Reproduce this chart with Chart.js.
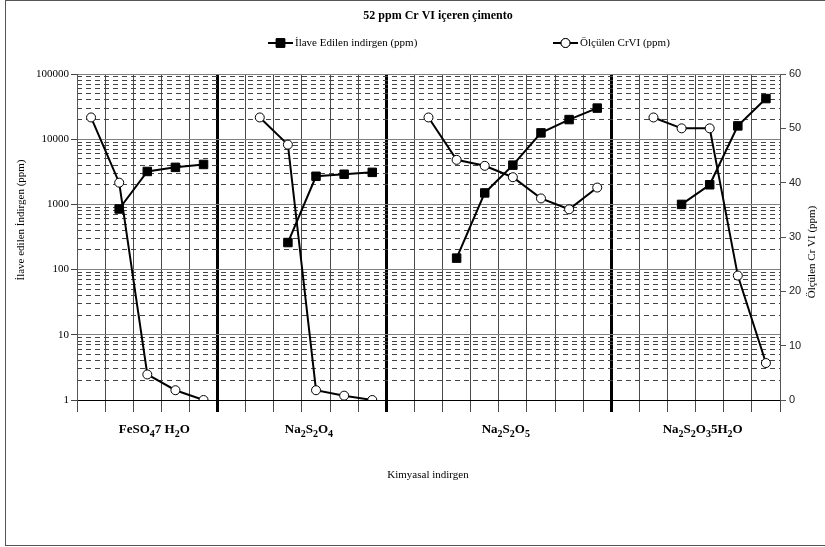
<!DOCTYPE html>
<html>
<head>
<meta charset="utf-8">
<script src="https://cdn.jsdelivr.net/npm/chart.js"></script>
<style>
  html, body { margin: 0; padding: 0; background: #fff; }
  #wrap { width: 825px; height: 547px; }
</style>
</head>
<body>
<div id="wrap"><canvas id="chart" width="825" height="547"></canvas></div>
<script>
"use strict"

const chartTitle = '52 ppm Cr VI içeren çimento';
const xTitle = 'Kimyasal indirgen';
const leftTitle = 'İlave edilen İndirgen (ppm)';
const rightTitle = 'Ölçülen Cr VI (ppm)';
const seriesNames = ['İlave Edilen indirgen (ppm)', 'Ölçülen CrVI (ppm)'];

const groupNames = ['FeSO₄7 H₂O', 'Na₂S₂O₄', 'Na₂S₂O₅', 'Na₂S₂O₃5H₂O'];
const groupSizes = [5, 6, 8, 6];

// added reducer, ppm (left, log axis)
const addedReducer = [
  null, 850, 3200, 3700, 4100,
  null, null, 260, 2700, 2900, 3100,
  null, null, 150, 1500, 4000, 12500, 20000, 30000,
  null, null, 1000, 2000, 16000, 42000
];
// measured Cr VI, ppm (right axis)
const measuredCr = [
  52, 40, 4.7, 1.8, 0,
  null, 52, 47, 1.8, 0.8, 0,
  null, 52, 44.2, 43.1, 41, 37.1, 35.1, 39.1,
  null, 52, 50, 50, 22.9, 6.8
];

const leftTicks = [1, 10, 100, 1000, 10000, 100000];
const minorSteps = [2, 3, 4, 5, 6, 7, 8, 9];
const rightTicks = [0, 10, 20, 30, 40, 50, 60];

const SERIF = "'Liberation Serif', 'Times New Roman', serif";
const SANS = "'Liberation Sans', Arial, sans-serif";

// one label per slot, group boundaries from groupSizes
let labels = [];
let boundaries = [];
groupNames.forEach((g, i) => {
  boundaries.push(labels.length);
  for (let k = 0; k < groupSizes[i]; k++) labels.push(g + ' ' + (k + 1));
});

let minorTicks = [];
leftTicks.slice(0, -1).forEach(d => minorSteps.forEach(m => minorTicks.push(d * m)));

// text with unicode subscript digits drawn as small lowered digits
function drawChem(ctx, text, cx, y, size) {
  const subs = '₀₁₂₃₄₅₆₇₈₉';
  let parts = [];
  for (const ch of text) {
    let k = subs.indexOf(ch);
    let isSub = k >= 0;
    let t = isSub ? String(k) : ch;
    if (parts.length && parts[parts.length - 1].sub == isSub) parts[parts.length - 1].t += t;
    else parts.push({ t: t, sub: isSub });
  }
  let big = 'bold ' + size + 'px ' + SERIF;
  let small = 'bold ' + Math.round(size * 0.8) + 'px ' + SERIF;
  let w = 0;
  parts.forEach(p => { ctx.font = p.sub ? small : big; p.w = ctx.measureText(p.t).width; w += p.w; });
  let x = cx - w / 2;
  ctx.textAlign = 'left';
  ctx.textBaseline = 'alphabetic';
  parts.forEach(p => {
    ctx.font = p.sub ? small : big;
    ctx.fillText(p.t, x, p.sub ? y + 4 : y);
    x += p.w;
  });
}

const extras = {
  id: 'extras',
  afterDraw(chart) {
    const ctx = chart.ctx;
    const xs = chart.scales.x;
    const area = chart.chartArea;
    ctx.save();
    ctx.fillStyle = '#000';

    // title
    ctx.font = 'bold 12px ' + SERIF;
    ctx.textAlign = 'center';
    ctx.textBaseline = 'middle';
    ctx.fillText(chartTitle, 438, 16);

    // legend: line with marker, then text
    const items = [
      { x: 268, style: 'rect', fill: '#000', r: 6 },
      { x: 553, style: 'circle', fill: '#fff', r: 4.5 }
    ];
    items.forEach((it, i) => {
      let y = 43;
      ctx.strokeStyle = '#000';
      ctx.lineWidth = 2;
      ctx.beginPath();
      ctx.moveTo(it.x, y);
      ctx.lineTo(it.x + 25, y);
      ctx.stroke();
      ctx.fillStyle = it.fill;
      ctx.lineWidth = 1;
      Chart.helpers.drawPoint(ctx, { pointStyle: it.style, radius: it.r, borderWidth: 1 }, it.x + 12.5, y);
      ctx.fill();
      ctx.stroke();
      ctx.fillStyle = '#000';
      ctx.font = '11px ' + SERIF;
      ctx.textAlign = 'left';
      ctx.textBaseline = 'middle';
      ctx.fillText(seriesNames[i], it.x + 27, y);
    });

    // group labels under the x axis
    groupNames.forEach((g, i) => {
      let a = boundaries[i];
      let b = a + groupSizes[i] - 1;
      let cx = (xs.getPixelForValue(a) + xs.getPixelForValue(b)) / 2 + 7;
      drawChem(ctx, g, cx, area.bottom + 33, 13);
    });

    // axis titles
    ctx.font = '11px ' + SERIF;
    ctx.textAlign = 'center';
    ctx.textBaseline = 'middle';
    ctx.fillText(xTitle, 428, 475);

    ctx.save();
    ctx.translate(21, 220);
    ctx.rotate(-Math.PI / 2);
    ctx.fillText(leftTitle, 0, 0);
    ctx.restore();

    ctx.save();
    ctx.translate(812, 252);
    ctx.rotate(-Math.PI / 2);
    ctx.fillText(rightTitle, 0, 0);
    ctx.restore();

    // chart frame
    ctx.strokeStyle = '#555';
    ctx.lineWidth = 1;
    ctx.strokeRect(5.5, 0.5, 825, 545);
    ctx.restore();
  }
};

new Chart(document.getElementById('chart'), {
  type: 'line',
  data: {
    labels: labels,
    datasets: [{
      label: seriesNames[0],
      data: addedReducer,
      yAxisID: 'y',
      borderColor: '#000',
      backgroundColor: '#000',
      borderWidth: 2,
      pointStyle: 'rect',
      pointRadius: 6,
      pointBorderWidth: 1,
      tension: 0,
      spanGaps: false
    }, {
      label: seriesNames[1],
      data: measuredCr,
      yAxisID: 'y2',
      borderColor: '#000',
      backgroundColor: '#fff',
      borderWidth: 2,
      pointStyle: 'circle',
      pointRadius: 4.5,
      pointBorderWidth: 1,
      tension: 0,
      spanGaps: false
    }]
  },
  options: {
    responsive: false,
    animation: false,
    layout: { padding: { top: 74, left: 0, right: 0, bottom: 0 } },
    plugins: {
      legend: { display: false },
      title: { display: false },
      tooltip: { enabled: false }
    },
    scales: {
      x: {
        type: 'category',
        offset: true,
        grid: {
          offset: true,
          tickLength: 12,
          color: ctx => boundaries.includes(ctx.index) && ctx.index > 0 ? '#000' : '#4a4a4a',
          lineWidth: ctx => boundaries.includes(ctx.index) && ctx.index > 0 ? 3 : 1
        },
        border: { color: '#000' },
        ticks: { display: false, autoSkip: false },
        afterFit: s => { s.height = 147; }
      },
      y: {
        type: 'logarithmic',
        position: 'left',
        min: 1,
        max: 100000,
        afterBuildTicks: s => { s.ticks = leftTicks.map(v => ({ value: v, major: true })); },
        ticks: {
          callback: v => String(v),
          font: { family: SERIF, size: 11 },
          color: '#000',
          padding: 2
        },
        grid: { color: '#808080', lineWidth: 1, tickLength: 6, tickColor: '#444' },
        border: { color: '#555' },
        afterFit: s => { s.width = 77; }
      },
      yMinor: {
        type: 'logarithmic',
        position: 'left',
        min: 1,
        max: 100000,
        afterBuildTicks: s => { s.ticks = minorTicks.map(v => ({ value: v })); },
        ticks: { display: false },
        grid: { color: '#444', lineWidth: 1, drawTicks: false },
        border: { display: false, dash: [5, 4] },
        afterFit: s => { s.width = 0; }
      },
      y2: {
        type: 'linear',
        position: 'right',
        min: 0,
        max: 60,
        afterBuildTicks: s => { s.ticks = rightTicks.map(v => ({ value: v })); },
        ticks: {
          font: { family: SANS, size: 11 },
          color: '#222',
          padding: 3
        },
        grid: { drawOnChartArea: false, tickLength: 6, color: '#555' },
        border: { color: '#555' },
        afterFit: s => { s.width = 45; }
      }
    }
  },
  plugins: [extras]
});
</script>
</body>
</html>
